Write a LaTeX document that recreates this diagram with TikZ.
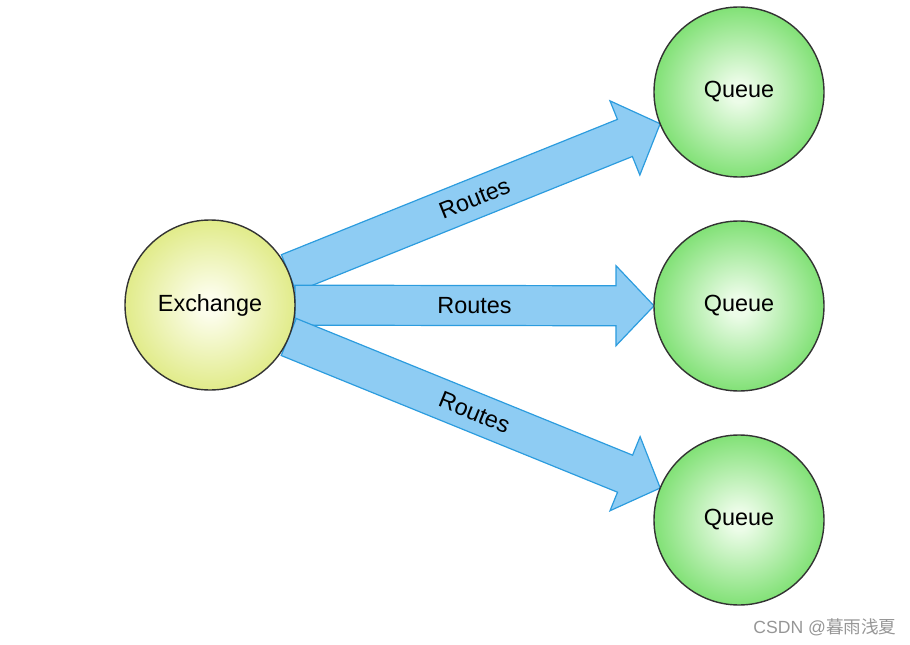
\documentclass[tikz,border=0pt]{standalone}
\usepackage{fontspec}
\setmainfont{Liberation Sans}
\newfontfamily\cjkfont{Noto Sans CJK SC}
\usepackage{tikz}
\usetikzlibrary{calc,backgrounds}

\definecolor{exchyellow}{RGB}{214,228,98}
\definecolor{exchlight}{RGB}{252,253,236}
\definecolor{queuegreen}{RGB}{86,214,72}
\definecolor{queuelight}{RGB}{236,252,232}
\definecolor{routefill}{RGB}{142,204,243}
\definecolor{routeline}{RGB}{44,156,222}
\definecolor{markgray}{RGB}{150,150,150}

\pgfdeclareradialshading{exchshade}{\pgfpoint{0bp}{0bp}}{color(0bp)=(exchlight); color(3bp)=(exchlight); color(34bp)=(exchyellow); color(50bp)=(exchyellow)}
\pgfdeclareradialshading{queueshade}{\pgfpoint{0bp}{0bp}}{color(0bp)=(queuelight); color(3bp)=(queuelight); color(34bp)=(queuegreen); color(50bp)=(queuegreen)}

\begin{document}
\begin{tikzpicture}[
  x=0.5pt, y=0.5pt,
  ball/.style={circle, draw=black!80, line width=0.7pt, minimum size=85pt,
               inner sep=0pt, font=\fontsize{11.7}{14}\selectfont},
  exch/.style={ball, shading=exchshade},
  queue/.style={ball, shading=queueshade},
  route/.style={fill=routefill, draw=routeline, line width=0.6pt,
                line join=miter},
  lbl/.style={font=\fontsize{11.7}{14}\selectfont, sloped},
  wm/.style={font=\fontsize{8.8}{10}\selectfont, text=markgray},
]
\useasboundingbox (0,0) rectangle (910,644);

% === Exchange and queues ===
\node[exch] (ex) at (210, 339) {Exchange};

\node[queue] (q1) at (739, 552) {Queue};
\node[queue] (q2) at (739, 338) {Queue};
\node[queue] (q3) at (739, 124) {Queue};

% === Block arrows from exchange to each queue ===
\begin{scope}[on background layer]
\foreach \q in {q1,q2,q3} {
  \coordinate (s) at ($(ex)!42.5pt!(\q)$);
  \coordinate (t) at ($(\q)!42.5pt!(ex)$);
  \coordinate (h) at ($(t)!19pt!(s)$);
  \draw[route] ($(s)!10pt!90:(t)$) -- ($(h)!10pt!-90:(s)$)
    -- ($(h)!20pt!-90:(s)$) -- (t) -- ($(h)!20pt!90:(s)$)
    -- ($(h)!10pt!90:(s)$) -- ($(s)!10pt!-90:(t)$) -- cycle;
  \path (s) -- (t) node[midway, lbl] {Routes};
}
\end{scope}

% === Watermark ===
\node[wm] (mark) at (825, 17) {CSDN @\cjkfont 暮雨浅夏};

\end{tikzpicture}
\end{document}
